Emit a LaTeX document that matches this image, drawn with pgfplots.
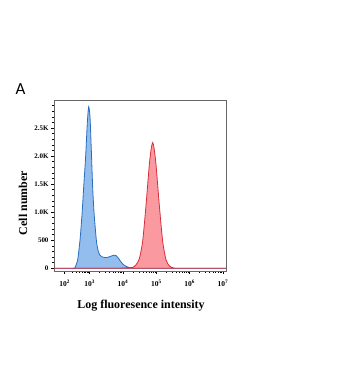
\documentclass[border=0pt]{standalone}
\usepackage{pgfplots}
\pgfplotsset{compat=1.18}
\usepackage{fontspec}
\setmainfont{Liberation Serif}
\newfontfamily\Afont{Carlito}
\definecolor{bfill}{RGB}{120,172,232}
\definecolor{bline}{RGB}{40,110,190}
\definecolor{rfill}{RGB}{250,128,138}
\definecolor{rline}{RGB}{215,45,55}
\begin{document}
\begin{tikzpicture}[x=1bp,y=1bp]
\useasboundingbox (0,0) rectangle (360,387);
\begin{axis}[
  at={(54bp,116bp)}, anchor=south west,
  scale only axis, width=172bp, height=171bp,
  xmin=1.93, xmax=7.09, ymin=-50, ymax=3000,
  axis line style={gray!80!black, line width=0.6pt},
  tick align=outside, tick pos=left,
  major tick length=3bp, minor tick length=1.6bp,
  every tick/.style={black, line width=0.5pt},
  xtick={2.25,3,4,5,6,7},
  xticklabels={{10$^{\mathbf 2}$},{10$^{\mathbf 3}$},{10$^{\mathbf 4}$},{10$^{\mathbf 5}$},{10$^{\mathbf 6}$},{10$^{\mathbf 7}$}},
  minor xtick={2.475,2.606,2.699,2.771,2.830,2.881,2.924,2.962,
    3.301,3.477,3.602,3.699,3.778,3.845,3.903,3.954,
    4.301,4.477,4.602,4.699,4.778,4.845,4.903,4.954,
    5.301,5.477,5.602,5.699,5.778,5.845,5.903,5.954,
    6.301,6.477,6.602,6.699,6.778,6.845,6.903,6.954},
  ytick={0,500,1000,1500,2000,2500},
  yticklabels={0,500,1.0K,1.5K,2.0K,2.5K},
  minor ytick={100,200,300,400,600,700,800,900,1100,1200,1300,1400,1600,1700,1800,1900,2100,2200,2300,2400,2600,2700,2800,2900},
  yticklabel style={font=\fontsize{7}{8}\selectfont\bfseries, xshift=1bp},
  xticklabel style={font=\fontsize{7.5}{8}\selectfont\bfseries, yshift=-3bp},
]
\addplot[draw=bline, line width=0.8pt, fill=bfill, fill opacity=0.8, smooth, tension=0.4] coordinates {
(1.93,0) (2.45,0) (2.55,0) (2.64,150) (2.71,500) (2.77,950) (2.82,1440) (2.88,2000) (2.93,2600) (2.97,2880)
(3.01,2700) (3.05,2100) (3.09,1440) (3.13,1000) (3.17,700) (3.21,450) (3.26,300) (3.31,230)
(3.38,200) (3.46,190) (3.55,195) (3.63,212) (3.70,228) (3.76,232) (3.80,220) (3.86,180) (3.93,120)
(4.00,70) (4.10,30) (4.20,10) (4.30,0) (7.09,0)} \closedcycle;
\addplot[draw=rline, line width=0.8pt, fill=rfill, fill opacity=0.8, smooth, tension=0.4] coordinates {
(1.93,0) (3.80,0) (4.10,5) (4.29,15) (4.39,60) (4.49,170) (4.59,480) (4.69,1120) (4.79,1850) (4.85,2150)
(4.89,2240) (4.93,2150) (4.99,1850) (5.09,1120) (5.19,480) (5.29,150) (5.39,40) (5.49,10) (5.60,0) (7.09,0)} \closedcycle;
\end{axis}
\node[font=\fontsize{12}{14}\selectfont\bfseries] at (141,81) {Log fluoresence intensity};
\node[font=\fontsize{12}{14}\selectfont\bfseries, rotate=90] at (23,184) {Cell number};
\node[font=\Afont\fontsize{17}{20}\selectfont, anchor=base west] at (12,293) {A};
\end{tikzpicture}
\end{document}
